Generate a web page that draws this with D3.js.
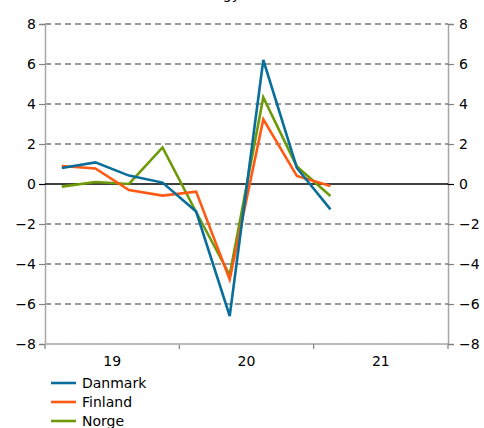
<!DOCTYPE html>
<html><head><meta charset="utf-8">
<script src="https://cdn.jsdelivr.net/npm/d3@7"></script>
<style>body{margin:0;background:#fff}svg{display:block;font-family:"DejaVu Sans",Verdana,sans-serif}</style>
</head><body><svg id="c" width="484" height="428"></svg>
<script>
const quarters = ["2019Q1","2019Q2","2019Q3","2019Q4","2020Q1","2020Q2","2020Q3","2020Q4","2021Q1"];
const danmark = [0.8, 1.08, 0.42, 0.07, -1.38, -6.6, 6.2, 0.8, -1.27];
const finland = [0.9, 0.78, -0.3, -0.58, -0.38, -4.77, 3.23, 0.4, -0.1];
const norge   = [-0.13, 0.1, 0.0, 1.83, -1.4, -4.55, 4.33, 0.87, -0.6];
const yearLabels = ["19","20","21"];
const yTicks = [-8,-6,-4,-2,0,2,4,6,8];
const seriesNames = ["Danmark","Finland","Norge"];
const colors = ["#0a6e9b","#ff5a14","#6e9a0a"];

const svg = d3.select("#c");
const L = 45, R = 448, T = 24, B = 344;
const allQ = ["2019Q1","2019Q2","2019Q3","2019Q4","2020Q1","2020Q2","2020Q3","2020Q4","2021Q1","2021Q2","2021Q3","2021Q4"];
const x = d3.scaleBand().domain(allQ).range([L, R]);
const xYear = d3.scaleBand().domain(yearLabels).range([L, R]);
const y = d3.scaleLinear().domain([-8, 8]).range([B, T]);

// title (clipped at top, as in the reference)
svg.append("text").attr("x", 240).attr("y", -1).attr("text-anchor","end")
  .attr("font-size", 14).attr("fill","#000").text("Energy");

// gridlines
svg.append("g").selectAll("line").data(yTicks.filter(d => d !== 0)).join("line")
  .attr("x1", L).attr("x2", R).attr("y1", d => y(d)).attr("y2", d => y(d))
  .attr("stroke", "#7a7a7a").attr("stroke-width", 1.6).attr("stroke-dasharray", "6,4");

// left / right axes
const yl = svg.append("g").attr("transform", `translate(${L},0)`)
  .call(d3.axisLeft(y).tickValues(yTicks).tickSize(6).tickPadding(5));
const yr = svg.append("g").attr("transform", `translate(${R},0)`)
  .call(d3.axisRight(y).tickValues(yTicks).tickSize(6).tickPadding(5));
[yl, yr].forEach(g => {
  g.select(".domain").attr("stroke", "#a6a6a6").attr("stroke-width", 1.5);
  g.selectAll(".tick line").attr("stroke", d => d === 0 ? "#000" : "#808080").attr("stroke-width", 1.2);
  g.selectAll(".tick text").attr("font-size", 14).attr("fill", "#000")
    .attr("font-family", "DejaVu Sans, Verdana, sans-serif");
});
yl.selectAll(".tick text").attr("dx", 2);

// bottom axis
const xb = svg.append("g").attr("transform", `translate(0,${B})`);
xb.append("line").attr("x1", L).attr("x2", R).attr("stroke", "#a6a6a6").attr("stroke-width", 1.5);
xb.selectAll("line.t").data([L].concat(yearLabels.map(d => xYear(d) + xYear.bandwidth()))).join("line")
  .attr("class","t").attr("x1", d => d).attr("x2", d => d).attr("y1", 0).attr("y2", 5)
  .attr("stroke", "#808080").attr("stroke-width", 1.2);
xb.selectAll("text").data(yearLabels).join("text")
  .attr("x", d => xYear(d) + xYear.bandwidth()/2).attr("y", 22)
  .attr("text-anchor","middle").attr("font-size", 14).attr("fill","#000").text(d => d);
svg.append("line").attr("x1", L).attr("x2", R).attr("y1", B).attr("y2", B)
  .attr("stroke", "#d0d0d0").attr("stroke-width", 1).attr("stroke-dasharray", "6,4");

// zero line
svg.append("line").attr("x1", L).attr("x2", R).attr("y1", y(0)).attr("y2", y(0))
  .attr("stroke", "#000").attr("stroke-width", 1.5);

// series
const data = [danmark, finland, norge];
const line = d3.line().x((d,i) => x(quarters[i]) + x.bandwidth()/2).y(d => y(d));
[2,1,0].forEach(k => {
  svg.append("path").datum(data[k]).attr("d", line).attr("fill","none")
    .attr("stroke", colors[k]).attr("stroke-width", 2.6).attr("stroke-linejoin","miter");
});

// legend
const lg = svg.append("g");
seriesNames.forEach((n, i) => {
  const yy = 383 + i * 19;
  lg.append("line").attr("x1", 51).attr("x2", 76).attr("y1", yy).attr("y2", yy)
    .attr("stroke", colors[i]).attr("stroke-width", 2.6);
  lg.append("text").attr("x", 82).attr("y", yy + 5).attr("font-size", 14).attr("fill","#000").text(n);
});
</script></body></html>
